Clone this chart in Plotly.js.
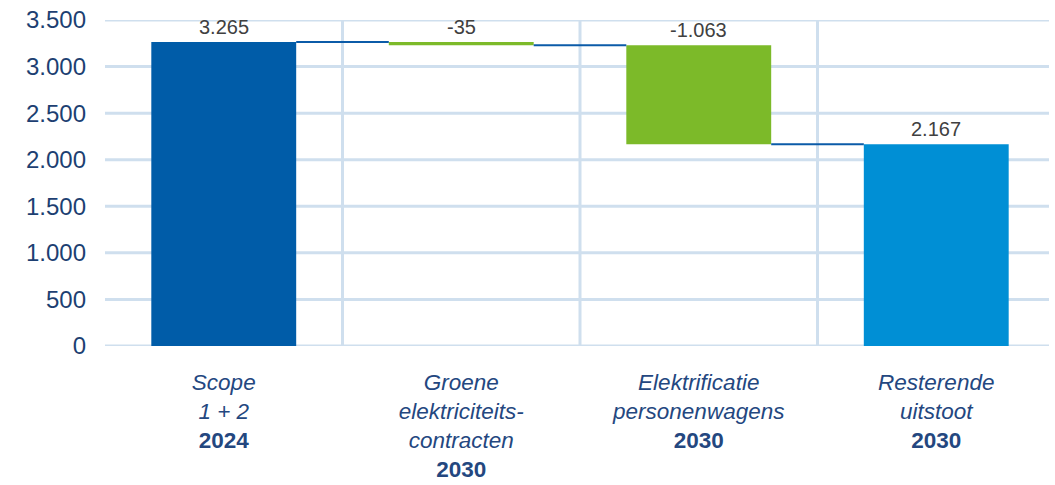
<!DOCTYPE html>
<html>
<head>
<meta charset="utf-8">
<script src="https://cdn.plot.ly/plotly-3.0.1.min.js"></script>
<style>html,body{margin:0;padding:0;background:#fff;}#chart{width:1055px;height:485px;}</style>
</head>
<body>
<div id="chart"></div>
<script>
// Data
const categoryLines = [
  ["Scope", "1 + 2"],
  ["Groene", "elektriciteits-", "contracten"],
  ["Elektrificatie", "personenwagens"],
  ["Resterende", "uitstoot"]
];
const years = ["2024", "2030", "2030", "2030"];
const measures = ["absolute", "relative", "relative", "total"];
const values = [3265, -35, -1063, 2167];
const barColors = ["#005CA8", "#7CBA29", "#7CBA29", "#008FD5"];
const yTickVals = [0, 500, 1000, 1500, 2000, 2500, 3000, 3500];

function fmt(v) {
  const s = Math.abs(v).toString().replace(/\B(?=(\d{3})+(?!\d))/g, ".");
  return (v < 0 ? "-" : "") + s;
}

// Compute waterfall geometry from data
const xs = values.map((_, i) => i);
const bases = [], heights = [], levels = [];
let level = 0;
values.forEach((v, i) => {
  if (measures[i] === "absolute" || measures[i] === "total") {
    bases.push(0); heights.push(v); level = v;
  } else {
    const next = level + v;
    bases.push(Math.min(level, next));
    heights.push(Math.abs(v));
    level = next;
  }
  levels.push(level);
});

const barWidth = 0.61;
const traces = [{
  type: "bar",
  x: xs,
  y: heights,
  base: bases,
  width: barWidth,
  marker: { color: barColors, line: { width: 0 } },
  hoverinfo: "skip"
}];

// connectors
for (let i = 0; i < values.length - 1; i++) {
  traces.push({
    type: "scatter",
    mode: "lines",
    x: [xs[i] + barWidth / 2, xs[i + 1] - barWidth / 2],
    y: [levels[i], levels[i]],
    line: { color: "#0B5BA8", width: 2 },
    hoverinfo: "skip"
  });
}

const tickText = categoryLines.map((lines, i) =>
  lines.map(l => "<i>" + l + "</i>").join("<br>") + "<br><b>" + years[i] + "</b>"
);

const annotations = values.map((v, i) => ({
  x: xs[i],
  y: bases[i] + heights[i],
  xref: "x", yref: "y",
  text: fmt(v),
  showarrow: false,
  yanchor: "bottom",
  yshift: 2,
  font: { family: "Liberation Sans, Arial, sans-serif", size: 20, color: "#404040" }
}));

const gridColor = "#CFDFEE";
const shapes = [];
// horizontal gridlines (end slightly before right edge)
yTickVals.forEach(v => {
  shapes.push({
    type: "line", xref: "paper", yref: "y",
    x0: 0, x1: 0.9937, y0: v, y1: v,
    line: { color: gridColor, width: 3 },
    layer: "below"
  });
});
// vertical separators between categories
for (let i = 0; i < values.length - 1; i++) {
  shapes.push({
    type: "line", xref: "x", yref: "paper",
    x0: xs[i] + 0.5, x1: xs[i] + 0.5, y0: 0, y1: 1,
    line: { color: gridColor, width: 3 },
    layer: "below"
  });
}

const layout = {
  width: 1055, height: 485,
  margin: { l: 105, r: 0, t: 20, b: 139 },
  paper_bgcolor: "#fff", plot_bgcolor: "#fff",
  showlegend: false,
  font: { family: "Liberation Sans, Arial, sans-serif" },
  xaxis: {
    type: "linear",
    range: [-0.5, values.length - 0.5],
    tickvals: xs,
    ticktext: tickText,
    showgrid: false,
    zeroline: false,
    showline: false,
    ticks: "",
    ticklabelstandoff: 20,
    tickfont: { family: "Liberation Sans, Arial, sans-serif", size: 22.5, color: "#24477F" },
    fixedrange: true
  },
  yaxis: {
    range: [0, 3500],
    tickvals: yTickVals,
    ticktext: yTickVals.map(fmt),
    showgrid: false,
    zeroline: false,
    showline: false,
    ticks: "",
    ticklabelstandoff: 18,
    tickfont: { family: "Liberation Sans, Arial, sans-serif", size: 24, color: "#1D3F72" },
    fixedrange: true
  },
  annotations: annotations,
  shapes: shapes
};

Plotly.newPlot("chart", traces, layout, { staticPlot: true, displayModeBar: false });
</script>
</body>
</html>
